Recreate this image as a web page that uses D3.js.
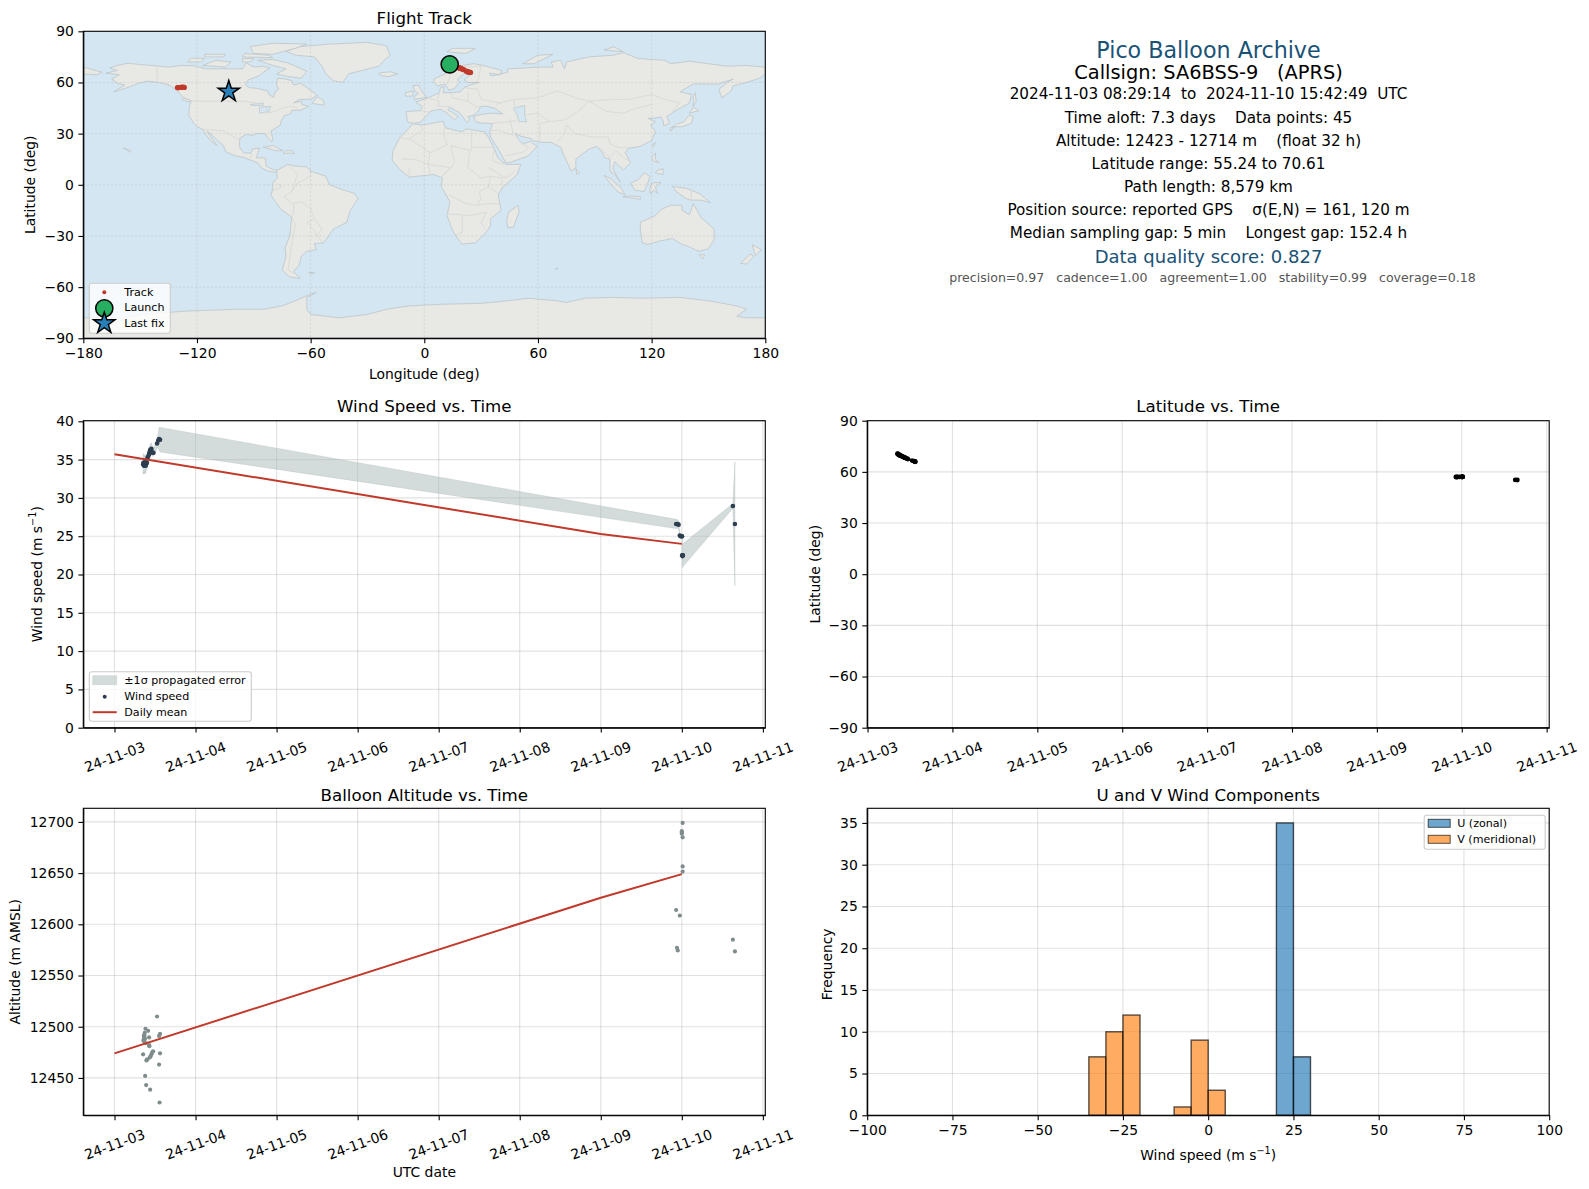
<!DOCTYPE html>
<html>
<head>
<meta charset="utf-8">
<title>Pico Balloon Archive</title>
<script src="https://cdn.jsdelivr.net/npm/d3@7/dist/d3.min.js"></script>
<style>
  html, body { margin: 0; padding: 0; background: #fff; }
  text { font-family: "DejaVu Sans", sans-serif; fill: #000; }
  .tick text { font-family: "DejaVu Sans", sans-serif; font-size: 13.9px; }
  .tick line, .domain { stroke: #000; stroke-width: 1.1px; }
</style>
</head>
<body>
<div id="chart"></div>
<script>
// days since 2024-11-03 00:00 UTC
const flightDays = [0.353, 0.357, 0.360, 0.362, 0.365, 0.368, 0.370, 0.373, 0.376, 0.378, 0.382, 0.385, 0.390, 0.394, 0.400, 0.406,
  0.415, 0.427, 0.427, 0.430, 0.435, 0.440, 0.445, 0.456, 0.466, 0.476, 0.525, 0.550, 0.550, 0.556, 0.562, 0.562,
  6.93, 6.94, 6.95, 6.975, 7.00, 7.00, 7.00, 7.01, 7.01, 7.01, 7.01, 7.63, 7.655];
const altitudeM = [12473, 12487, 12486, 12491, 12489, 12492, 12490, 12494, 12488, 12452, 12498, 12484, 12443, 12467, 12468, 12468,
  12496, 12489.5, 12482, 12481, 12470, 12438.5, 12471, 12473, 12475, 12476, 12510, 12491, 12463, 12426, 12493, 12474,
  12614, 12577, 12574.5, 12608.5, 12691, 12689.5, 12688.5, 12699, 12685, 12656.5, 12651.5, 12585, 12573.5];
const latitudeDeg = [70.61, 70.5, 70.4, 70.3, 70.2, 70.1, 70.0, 69.9, 69.85, 69.8, 69.7, 69.6, 69.5, 69.4, 69.25, 69.1,
  68.9, 68.65, 68.6, 68.5, 68.4, 68.3, 68.2, 67.95, 67.7, 67.5, 66.6, 66.3, 66.2, 66.1, 65.95, 65.9,
  57.0, 57.0, 57.0, 57.05, 57.1, 57.1, 57.1, 57.1, 57.1, 57.1, 57.1, 55.3, 55.24];
const longitudeDeg = [13.4, 13.8, 14.1, 14.4, 14.7, 15.0, 15.2, 15.4, 15.6, 15.8, 16.0, 16.2, 16.5, 16.8, 17.1, 17.4,
  17.8, 18.3, 18.4, 18.6, 18.9, 19.1, 19.4, 19.9, 20.3, 20.8, 22.2, 22.8, 23.0, 23.5, 24.0, 24.4,
  -130.3, -130.0, -129.6, -129.0, -128.2, -128.1, -128.0, -127.5, -127.3, -127.0, -126.7, -104, -103.2];

const windDays = [0.354, 0.357, 0.360, 0.362, 0.365, 0.368, 0.370, 0.373, 0.376, 0.378, 0.382, 0.385, 0.390, 0.394, 0.400, 0.406,
  0.415, 0.427, 0.430, 0.435, 0.440, 0.445, 0.456, 0.476, 0.480, 0.525, 0.540, 0.550, 0.562,
  6.93, 6.95, 6.96, 6.975, 6.985, 7.00, 7.002, 7.005, 7.008, 7.01, 7.012, 7.63, 7.655];
const windSpeed = [34.4, 34.6, 34.3, 34.4, 34.2, 34.5, 34.3, 34.4, 34.5, 34.7, 34.4, 34.2, 34.6, 34.5, 34.6, 35.2,
  35.4, 35.7, 35.8, 36.0, 36.2, 36.3, 36.4, 35.9, 35.9, 37.1, 37.5, 37.7, 37.6,
  26.6, 26.6, 26.5, 25.1, 25.0, 25.0, 25.0, 22.5, 22.4, 22.5, 22.5, 28.95, 26.6];
const windSigma = [1.2, 1.2, 1.2, 1.1, 1.1, 1.1, 1.1, 1.0, 1.0, 1.0, 1.0, 1.0, 0.9, 0.9, 0.9, 0.9,
  0.8, 0.8, 0.8, 0.8, 0.8, 0.8, 0.8, 0.5, 0.5, 0.6, 1.0, 1.5, 1.6,
  0.6, 0.55, 0.5, 0.3, 0.3, 0.3, 0.3, 1.5, 1.5, 1.5, 1.5, 0.3, 8.1];

const meanDays = [0, 6, 7];
const meanWind = [35.7, 25.3, 24.0];
const meanAltitude = [12474, 12626, 12649];

const uBinStarts = [20, 25];
const uCounts = [35, 7];
const vBinStarts = [-35, -30, -25, -10, -5, 0];
const vCounts = [7, 10, 12, 1, 9, 3];
const binWidth = 5;

const lonTicks = [-180, -120, -60, 0, 60, 120, 180];
const latTicks = [-90, -60, -30, 0, 30, 60, 90];
const windTicks = [0, 5, 10, 15, 20, 25, 30, 35, 40];
const altTicks = [12450, 12500, 12550, 12600, 12650, 12700];
const freqTicks = [0, 5, 10, 15, 20, 25, 30, 35];
const histTicks = [-100, -75, -50, -25, 0, 25, 50, 75, 100];

const launchFix = [13.4, 70.61];
const lastFix = [-103.2, 55.24];

// rough coastlines, lon/lat
const landPolygons = [
  // north america
  [[-168,65.5],[-164,66.5],[-162,67],[-166,68.5],[-162,70],[-156.5,71.3],[-150,70.5],[-141,69.7],[-135,69],[-128,70],[-122,69.8],[-115,68],[-108,68],[-100,68],[-96,68],[-94,71.5],[-90,69],[-85,69.5],[-81.5,68.5],[-85,66],[-87,64],[-93,61.5],[-94.5,58.7],[-92.5,57],[-88,56.5],[-82.5,55],[-82,52.8],[-79.5,51.3],[-79,54],[-77,56],[-78,59],[-77.5,62.5],[-73,62],[-70,61],[-69,58.5],[-65.5,59.5],[-62,57],[-56.5,52.5],[-60,50.2],[-66,50],[-69,48],[-65,49],[-64.5,47],[-61,46],[-65.5,43.7],[-70,43.7],[-70.5,41.7],[-74,40.5],[-75.5,37.5],[-76,35],[-81,31.5],[-80,27],[-80.5,25.2],[-82.5,27.5],[-84,30],[-89,30.2],[-90,29],[-94,29.5],[-97.3,27.5],[-97.7,22.5],[-95.5,18.8],[-91.5,18.5],[-90.5,21],[-87,21.5],[-88,18],[-88.8,15.8],[-84,15.8],[-83.5,11],[-80,9],[-77.5,8.6],[-78,7.5],[-80,7.5],[-83,8.2],[-86,10],[-88,13],[-92,14.5],[-95,16],[-100,17],[-105,19.5],[-106,23],[-109,26],[-112.5,29.5],[-114.7,31.5],[-112,27],[-109.5,23],[-112,25],[-115,29],[-117,32.5],[-120.5,34.5],[-122.5,37.5],[-124.3,40.5],[-124,46],[-123,49],[-127,51],[-130,54.5],[-134,58],[-139,59.8],[-146,60.8],[-151,59.5],[-153,58.5],[-158,56.5],[-164,54.5],[-158,58.5],[-162,59.5],[-165,62],[-161,64.5]],
  // greenland + arctic islands
  [[-73,78.2],[-66,81],[-50,82.5],[-30,83.5],[-20,81.5],[-18,76],[-22,72],[-24,69.5],[-33,67],[-40,65],[-43,60],[-48,61],[-52,65],[-54,69.5],[-58,75],[-68,76]],
  [[-80,73.5],[-72,71.5],[-68,69.5],[-62,66.5],[-65,62.5],[-72,63.5],[-78,65],[-73,68],[-80,70],[-88,73]],
  [[-117,70],[-105,69],[-102,72],[-110,73]],
  [[-125,72],[-118,72],[-116,74],[-123,74.3]],
  [[-90,77],[-80,76.5],[-68,80],[-62,82.5],[-80,83],[-92,81]],
  [[-96,75],[-80,74.5],[-82,76],[-95,77]],
  [[-116,75],[-106,75],[-105,76.5],[-116,76.5]],
  [[-96,72],[-92,72],[-90,74],[-96,74]],
  [[-59,47.7],[-53,46.7],[-53,49],[-56,51.5],[-58,50]],
  [[-128,50],[-124,48.5],[-123.5,49.5],[-127,51]],
  [[-85,22],[-80,23],[-74.5,20],[-78,20]],
  [[-74.5,18.5],[-68.5,18.5],[-70,20],[-73,20]],
  [[-159,21.5],[-155,20],[-155.5,19],[-157,21]],
  // south america
  [[-77.5,8.6],[-72,12],[-68,11],[-62,10.5],[-60,8],[-52,5],[-50,0],[-44,-2.5],[-37,-5],[-35,-8],[-39,-15],[-41,-22],[-48,-26],[-53,-34],[-58,-34.5],[-57,-38],[-62,-39],[-65,-42],[-66,-47],[-69,-51],[-65.5,-55],[-71,-54],[-75,-50],[-73,-42],[-73.5,-37],[-71,-30],[-70,-19],[-76,-14],[-81,-6],[-80,-2.5],[-80,1],[-77.5,4],[-78,7.5]],
  [[-61,-51.5],[-58,-51.5],[-59,-52.3]],
  // africa
  [[-6,35.8],[-1,35],[10,37.3],[11,33.5],[15,32.3],[20,31],[22,32.8],[32,31],[34,27.5],[37,21],[39,15.5],[43,12],[51,12],[49,6],[41,-2],[39,-6],[40.5,-15],[35,-20],[35,-24],[32.5,-28],[27,-34],[20,-34.8],[18,-32],[15,-27],[12,-18],[13.5,-10],[9,-1],[9.5,4],[5,6],[-4,5],[-8,4.5],[-13,9],[-17,14.5],[-16.5,20],[-13,27.5],[-9.5,31.5]],
  [[49.5,-12],[50,-16],[47,-25],[44,-25],[43.5,-21],[44.5,-16]],
  // eurasia
  [[-9,37],[-9.5,43],[-2,43.5],[-1,46],[-4.5,48.5],[1.5,50.8],[4,52],[8,54],[8.5,57],[10.5,57.5],[10,54],[14,54],[19,54.5],[21,57],[24,58.5],[29,60],[23,60],[21,61.5],[25,65],[22,65.8],[17.5,62],[18.5,60],[16,56.5],[13,55.5],[11,59],[7,58],[5,60],[5,62],[11,65],[15,68.5],[20,70],[26,71],[31,70],[41,67],[40,64.5],[34.5,65.5],[35,64],[37,64],[44,66],[44,68],[53,68.5],[60,69],[68,69],[67,72],[72,73],[74,68],[75,72],[81,73.5],[87,75],[100,76],[105,77.5],[113,74],[127,73],[130,71],[140,72.5],[150,71],[160,69.5],[170,70],[180,69],[180,65],[177,62.5],[170,60],[163,58],[162,55],[157,51],[155.5,56],[160,60],[163,62],[155,59],[142,59.2],[135,54.5],[141,53],[140,48],[132,43],[128,40],[129.5,36],[126.5,34.5],[126,37.5],[125,39.7],[121,39],[118,39],[122,37],[119.5,35],[122,31],[120,26],[114,22.5],[108,21.5],[106,19],[109,13],[105,8.7],[103,11],[100.5,13.5],[99.5,9.5],[103.5,1.5],[100.5,6],[98,8],[98,15],[95,16],[94,19],[91,22.5],[87,21],[80,15],[80,10],[77.5,8],[73,19],[72,22],[67,24.8],[61,25],[57,26],[56.5,27],[51,28.5],[48,30],[50,26],[52,24],[56,25.5],[59.5,22.5],[55,17],[45,13],[43,13],[39,21],[35,28],[34.5,31],[36,36],[30,36.2],[27,37],[26,40],[29,41],[35,42],[41.5,41.5],[37,45],[33,46],[30,46],[28,42.5],[26,40.8],[23,40],[24,38],[22.5,36.5],[19.5,41],[19,42],[13.5,45.5],[12.5,44],[18,40],[16,38],[12,42],[8.8,44.3],[3.5,43.3],[0,39],[-2,36.8],[-5.5,36]],
  [[-180,69],[-175,67.5],[-170,66],[-173,64.5],[-180,65]],
  [[-5.5,50],[1.5,51.3],[0,53],[-2,56],[-3,58.5],[-6,58],[-5,55],[-3,53.5],[-5,52]],
  [[-10,52],[-6,52],[-6,55],[-10,54]],
  [[-24,65.5],[-18,66.3],[-14,65],[-19,63.4],[-23,64]],
  [[12,78],[22,77],[27,80],[15,80]],
  [[52,71],[58,71],[68,76.5],[60,76]],
  [[95,79],[105,78],[100,81]],
  [[142,46],[143.5,49],[143,54],[142,52]],
  [[131,34],[136,34],[141,36],[142,40],[140,41],[137,37],[133,35.5]],
  [[140,42],[145,43.5],[142,45.5]],
  [[130,31.5],[132,33.5],[130,33.5]],
  [[120,23],[121,22],[122,25]],
  [[120,16],[122,18.5],[122,15],[124,13],[121,14]],
  [[122,7],[126,6],[126,9.5],[123,8.5]],
  [[109,1],[111,-3],[116,-4],[118,1],[119,5],[116,7],[113,3]],
  [[95,5.5],[98,4],[104,-2],[106,-6],[102,-4],[98,1]],
  [[105,-7],[114,-8.5],[114,-7],[108,-6.5]],
  [[119.5,-5.5],[121,-3],[123,-5],[122,-1],[125,1.5],[120,1],[119,-3]],
  [[131,-1],[138,-2],[145,-5],[151,-10.5],[146,-9],[141,-9],[138,-8],[133,-4]],
  [[80,9.5],[82,7],[80.5,6]],
  // australia, nz
  [[114,-22],[122,-18],[125,-14.5],[130,-12],[136,-12],[136,-15],[140,-17.5],[142,-11],[146,-19],[153,-26],[153,-32],[150,-37.5],[145,-39],[139,-36],[136,-35],[131,-31.5],[124,-33],[118,-35],[115,-34],[114,-26]],
  [[145,-41],[148,-41],[147,-43.5]],
  [[173,-35],[178,-38],[175,-41.5],[174,-39]],
  [[172,-40.5],[174,-42],[170,-46.5],[167,-46]],
  [[69,-49],[70.5,-49],[70,-49.8]],
  // antarctica
  [[-180,-78],[-160,-78],[-150,-76],[-125,-74],[-100,-73],[-85,-73],[-75,-71],[-68,-68],[-60,-64],[-57,-63.2],[-62,-66],[-62,-73],[-60,-76],[-45,-78],[-30,-76],[-20,-73],[-8,-71],[10,-70],[30,-69.5],[40,-68.5],[55,-66.5],[70,-68],[75,-69],[85,-66.5],[100,-66],[115,-66.5],[135,-66],[150,-68],[165,-71],[170,-73],[165,-77],[170,-78],[180,-78],[180,-90],[-180,-90]]
];
const lakePolygons = [
  [[47,45],[53,46.5],[53,41],[54,37],[50,37],[49,41]],
  [[-92,47],[-85,48],[-85,46.5],[-90,46.5]],
  [[-87,45.5],[-81,46],[-82,43],[-87,42]]
];
const borderLines = [
  [[-141,69.7],[-141,60.3],[-135,59],[-130,55]],
  [[-123,49],[-95,49],[-89,48],[-83,45],[-83,42],[-79,43],[-75,45],[-70,46],[-67,45]],
  [[-117,32.5],[-106,31.7],[-97.3,26]],
  [[-92,14.5],[-91,18]],
  [[-72,12],[-67,6],[-70,-4],[-74,-7],[-70,-11],[-65,-10],[-60,-14],[-58,-20],[-54,-26],[-57,-30],[-53,-34]],
  [[-60,8],[-60,5],[-67,1],[-70,-4]],
  [[-70,-19],[-68,-23],[-70,-35],[-72,-50],[-69,-52]],
  [[-69,-11],[-69,-16],[-70,-19]],
  [[-58,-20],[-62,-22],[-58,-27],[-57,-30]],
  [[-81,-4],[-75,-1],[-78,1]],
  [[-2,35],[-1,32],[-8,27],[-13,27.5]],
  [[-8,27],[3,19],[4,19],[12,23.5],[10,30],[11,33.5]],
  [[25,31.5],[25,20],[14,23],[16,13],[14,10],[9,4.5]],
  [[25,22],[37,22]],
  [[24,20],[23,10],[30,4],[35,5],[41,4],[41,-2]],
  [[35,5],[34,-1],[39,-5]],
  [[34,-1],[29,-4],[30,-8],[28,-12],[22,-11],[13,-6]],
  [[28,-12],[34,-11],[40.5,-11]],
  [[12,-17],[24,-18],[33,-16],[30,-22],[32,-26]],
  [[20,-18],[20,-28],[17,-29]],
  [[3,19],[2,12],[3,6]],
  [[-12,15],[-5,15],[2,12]],
  [[-8,10],[-8,4.5]],
  [[9,4.5],[14,10],[2,12]],
  [[37,22],[36,14],[42,12]],
  [[34,10],[43,4],[48,8]],
  [[-2,43.5],[3,42.5]],
  [[2,51],[8,49],[7,46],[13.5,46]],
  [[8,54],[7,50]],
  [[14,54],[15,51],[23,49],[28,45.5],[30,46]],
  [[23,54],[23,49]],
  [[21,57],[28,56],[30,50],[40,48],[38,47]],
  [[12,59],[14,65],[20,69],[30,69.5],[28,60]],
  [[47,50],[60,51],[70,55],[80,51],[87,49],[98,50],[108,50],[120,53],[127,50],[135,48],[131,43]],
  [[40,48],[47,50],[48,46]],
  [[87,49],[96,43],[105,42],[112,45],[120,47]],
  [[53,41],[60,42],[66,37],[74,38],[80,42],[87,49]],
  [[75,35],[80,30],[88,28],[97,28],[98,24],[102,22],[108,21.5]],
  [[75,35],[74,30],[70,25]],
  [[66,37],[61,36],[61,25]],
  [[45,39],[47,30]],
  [[36,36],[45,37],[49,38]],
  [[35,32],[39,32],[47,29]],
  [[92,22],[98,16],[101,20],[105,16],[108,14]],
  [[43,17],[52,19],[55,22],[52,24]],
  [[141,-3],[141,-9]]
];

const tzero = Date.UTC(2024, 10, 3);
const toDate = d => new Date(tzero + d * 864e5);

const red = '#c0392b';
const navy = '#2c3e50';
const slate = '#7f8c8d';
const bandFill = '#aab7b8';
const titleBlue = '#1a5276';

const svg = d3.select('#chart').append('svg')
  .attr('width', 1589)
  .attr('height', 1189);

const leftX = 83.3, rightX = 867.2, plotW = 682, plotH = 307;
const topY = 31.3, midY = 420.7, lowY = 808.3;

function panel(x0, y0, title, id, titleY) {
  const g = svg.append('g').attr('transform', `translate(${x0},${y0})`);
  g.append('clipPath').attr('id', id).append('rect').attr('width', plotW).attr('height', plotH);
  g.append('text').attr('x', plotW / 2).attr('y', titleY || -7)
    .attr('text-anchor', 'middle').style('font-size', '16.67px').text(title);
  return g;
}

function grid(g, x, y, xt, yt, dash) {
  const gg = g.append('g').attr('stroke', '#b0b0b0').attr('stroke-opacity', dash ? 0.45 : 0.38).attr('stroke-width', dash ? 0.8 : 1.1)
    .attr('stroke-dasharray', dash || null);
  gg.selectAll('.gx').data(xt).join('line').attr('x1', d => x(d)).attr('x2', d => x(d)).attr('y1', 0).attr('y2', plotH);
  gg.selectAll('.gy').data(yt).join('line').attr('y1', d => y(d)).attr('y2', d => y(d)).attr('x1', 0).attr('x2', plotW);
}

function frame(g, x, y, xt, yt, xfmt, rotate) {
  const ax = g.append('g').attr('transform', `translate(0,${plotH})`)
    .call(d3.axisBottom(x).tickValues(xt).tickSize(4.9).tickSizeOuter(0).tickPadding(4.5).tickFormat(xfmt || d3.format('d')));
  if (rotate) {
    // labels rotate about their centre, below the tick
    ax.selectAll('.tick text')
      .attr('text-anchor', 'middle')
      .attr('dominant-baseline', 'middle')
      .attr('y', 0).attr('x', 0).attr('dy', 0)
      .attr('transform', 'translate(0,30) rotate(-20)');
  }
  g.append('g').call(d3.axisLeft(y).tickValues(yt).tickSize(4.9).tickSizeOuter(0).tickPadding(4.5).tickFormat(d3.format('d')));
  g.append('rect').attr('width', plotW).attr('height', plotH).attr('fill', 'none').attr('stroke', '#000').attr('stroke-width', 1.1);
}

function ylabel(g, cx, parts, shift) {
  const t = g.append('text').attr('transform', `translate(${cx},${plotH / 2 + (shift || 0)}) rotate(-90)`)
    .attr('text-anchor', 'middle').attr('dominant-baseline', 'middle').style('font-size', '13.9px');
  parts(t);
}

function windUnits(t, label) {
  t.append('tspan').text(label + ' (m s');
  t.append('tspan').attr('dy', -5).style('font-size', '9.7px').text('\u22121');
  t.append('tspan').attr('dy', 5).text(')');
}

function legendBox(g, x, y, w, h) {
  g.append('rect').attr('x', x).attr('y', y).attr('width', w).attr('height', h).attr('rx', 2.5)
    .attr('fill', '#fff').attr('fill-opacity', 0.8).attr('stroke', '#ccc').attr('stroke-width', 1.1);
}

function legendText(g, x, y, label) {
  g.append('text').attr('x', x).attr('y', y).attr('dominant-baseline', 'middle')
    .style('font-size', '11.1px').text(label);
}

// ---- flight track
(function () {
  const g = panel(leftX, topY, 'Flight Track', 'clip-map');
  const x = d3.scaleLinear().domain([-180, 180]).range([0, plotW]);
  const y = d3.scaleLinear().domain([-90, 90]).range([plotH, 0]);
  const shape = d3.line().x(d => x(d[0])).y(d => y(d[1]));

  const map = g.append('g').attr('clip-path', 'url(#clip-map)');
  map.append('rect').attr('width', plotW).attr('height', plotH).attr('fill', '#d4e6f1');
  map.selectAll('.land').data(landPolygons).join('path')
    .attr('d', d => shape(d) + 'Z')
    .attr('fill', '#e8e8e4').attr('stroke', '#bcc5c9').attr('stroke-width', 0.8);
  map.selectAll('.lake').data(lakePolygons).join('path')
    .attr('d', d => shape(d) + 'Z')
    .attr('fill', '#d4e6f1').attr('stroke', '#bcc5c9').attr('stroke-width', 0.7);
  map.selectAll('.border').data(borderLines).join('path')
    .attr('d', shape).attr('fill', 'none')
    .attr('stroke', '#d6d8d6').attr('stroke-width', 0.8);

  grid(g, x, y, lonTicks, latTicks, '2,2');

  g.selectAll('.track').data(longitudeDeg).join('circle')
    .attr('cx', d => x(d)).attr('cy', (d, i) => y(latitudeDeg[i])).attr('r', 2.6).attr('fill', red);
  g.append('circle').attr('cx', x(launchFix[0])).attr('cy', y(launchFix[1])).attr('r', 8.6)
    .attr('fill', '#27ae60').attr('stroke', '#000').attr('stroke-width', 1.5);
  const star = d3.symbol().type(d3.symbolStar).size(140);
  g.append('path').attr('d', star()).attr('transform', `translate(${x(lastFix[0])},${y(lastFix[1]) + 1})`)
    .attr('fill', '#2980b9').attr('stroke', '#000').attr('stroke-width', 1.5);

  frame(g, x, y, lonTicks, latTicks);
  g.append('text').attr('x', plotW / 2).attr('y', plotH + 37).attr('dominant-baseline', 'middle')
    .attr('text-anchor', 'middle').style('font-size', '13.9px').text('Longitude (deg)');
  ylabel(g, -52.8, t => t.text('Latitude (deg)'));

  legendBox(g, 6, 252, 81, 50);
  g.append('circle').attr('cx', 21).attr('cy', 261).attr('r', 2).attr('fill', red);
  g.append('circle').attr('cx', 21).attr('cy', 277).attr('r', 8.6)
    .attr('fill', '#27ae60').attr('stroke', '#000').attr('stroke-width', 1.5);
  g.append('path').attr('d', star()).attr('transform', 'translate(21,292)')
    .attr('fill', '#2980b9').attr('stroke', '#000').attr('stroke-width', 1.5);
  legendText(g, 41, 261.5, 'Track');
  legendText(g, 41, 277, 'Launch');
  legendText(g, 41, 292.5, 'Last fix');
})();

// ---- summary text
(function () {
  const cx = 1208.5;
  const lines = [
    [51, 22.2, titleBlue, 'Pico Balloon Archive', 0],
    [73, 19.4, '#000', 'Callsign: SA6BSS-9   (APRS)', 0],
    [94.5, 15.22, '#000', '2024-11-03 08:29:14  to  2024-11-10 15:42:49  UTC', 0],
    [118, 15.22, '#000', 'Time aloft: 7.3 days    Data points: 45', 0],
    [141, 15.22, '#000', 'Altitude: 12423 - 12714 m    (float 32 h)', 0],
    [164, 15.22, '#000', 'Latitude range: 55.24 to 70.61', 0],
    [187, 15.22, '#000', 'Path length: 8,579 km', 0],
    [210, 15.22, '#000', 'Position source: reported GPS    \u03c3(E,N) = 161, 120 m', 0],
    [233.5, 15.22, '#000', 'Median sampling gap: 5 min    Longest gap: 152.4 h', 0],
    [258, 18, titleBlue, 'Data quality score: 0.827', 0],
    [278.5, 12.55, '#555', 'precision=0.97   cadence=1.00   agreement=1.00   stability=0.99   coverage=0.18', 4]
  ];
  svg.selectAll('.info').data(lines).join('text')
    .attr('x', d => cx + d[4]).attr('y', d => d[0]).attr('text-anchor', 'middle').attr('dominant-baseline', 'middle')
    .style('white-space', 'pre').style('font-size', d => d[1] + 'px').style('fill', d => d[2]).text(d => d[3]);
})();

const dayFmt = d3.utcFormat('%y-%m-%d');
const dayTicks = d3.range(0, 9).map(toDate);

// ---- wind speed
(function () {
  const g = panel(leftX, midY, 'Wind Speed vs. Time', 'clip-wind', -9);
  const x = d3.scaleUtc().domain([toDate(-0.385), toDate(8.03)]).range([0, plotW]);
  const y = d3.scaleLinear().domain([0, 40.08]).range([plotH, 0]);
  grid(g, x, y, dayTicks, windTicks);

  const band = d3.area()
    .x((d, i) => x(toDate(windDays[i])))
    .y0((d, i) => y(d - windSigma[i]))
    .y1((d, i) => y(d + windSigma[i]));
  g.append('path').datum(windSpeed).attr('d', band)
    .attr('fill', bandFill).attr('fill-opacity', 0.5).attr('stroke', bandFill).attr('stroke-opacity', 0.3).attr('stroke-width', 1);

  g.selectAll('.wpt').data(windSpeed).join('circle')
    .attr('cx', (d, i) => x(toDate(windDays[i]))).attr('cy', d => y(d)).attr('r', 2.3).attr('fill', navy);
  const meanLine = d3.line().x((d, i) => x(toDate(meanDays[i]))).y(d => y(d));
  g.append('path').datum(meanWind).attr('d', meanLine).attr('fill', 'none').attr('stroke', red).attr('stroke-width', 2);

  frame(g, x, y, dayTicks, windTicks, dayFmt, true);
  ylabel(g, -45, t => windUnits(t, 'Wind speed'));

  legendBox(g, 6, 251, 162, 49.5);
  g.append('rect').attr('x', 9.4).attr('y', 255).attr('width', 24).attr('height', 9)
    .attr('fill', bandFill).attr('fill-opacity', 0.5).attr('stroke', bandFill).attr('stroke-opacity', 0.3);
  g.append('circle').attr('cx', 21.4).attr('cy', 276).attr('r', 2).attr('fill', navy);
  g.append('line').attr('x1', 9.4).attr('x2', 33.4).attr('y1', 291.5).attr('y2', 291.5).attr('stroke', red).attr('stroke-width', 2);
  legendText(g, 41, 260, '\u00b11\u03c3 propagated error');
  legendText(g, 41, 276.3, 'Wind speed');
  legendText(g, 41, 292, 'Daily mean');
})();

// ---- latitude
(function () {
  const g = panel(rightX, midY, 'Latitude vs. Time', 'clip-lat', -9);
  const x = d3.scaleUtc().domain([toDate(-0.004), toDate(8.03)]).range([0, plotW]);
  const y = d3.scaleLinear().domain([-90, 90]).range([plotH, 0]);
  grid(g, x, y, dayTicks, latTicks);
  g.selectAll('.lpt').data(latitudeDeg).join('circle')
    .attr('cx', (d, i) => x(toDate(flightDays[i]))).attr('cy', d => y(d)).attr('r', 2.4).attr('fill', '#000');
  frame(g, x, y, dayTicks, latTicks, dayFmt, true);
  ylabel(g, -51.3, t => t.text('Latitude (deg)'));
})();

// ---- altitude
(function () {
  const g = panel(leftX, lowY, 'Balloon Altitude vs. Time', 'clip-alt');
  const x = d3.scaleUtc().domain([toDate(-0.385), toDate(8.03)]).range([0, plotW]);
  const y = d3.scaleLinear().domain([12413.5, 12713.3]).range([plotH, 0]);
  grid(g, x, y, dayTicks, altTicks);
  g.selectAll('.apt').data(altitudeM).join('circle')
    .attr('cx', (d, i) => x(toDate(flightDays[i]))).attr('cy', d => y(d)).attr('r', 2.1).attr('fill', slate);
  const meanLine = d3.line().x((d, i) => x(toDate(meanDays[i]))).y(d => y(d));
  g.append('path').datum(meanAltitude).attr('d', meanLine).attr('fill', 'none').attr('stroke', red).attr('stroke-width', 2);
  frame(g, x, y, dayTicks, altTicks, dayFmt, true);
  ylabel(g, -67.5, t => t.text('Altitude (m AMSL)'));
  g.append('text').attr('x', plotW / 2).attr('y', plotH + 58).attr('dominant-baseline', 'middle')
    .attr('text-anchor', 'middle').style('font-size', '13.9px').text('UTC date');
})();

// ---- u / v histogram
(function () {
  const g = panel(rightX, lowY, 'U and V Wind Components', 'clip-hist');
  const x = d3.scaleLinear().domain([-100, 100]).range([0, plotW]);
  const y = d3.scaleLinear().domain([0, 36.75]).range([plotH, 0]);
  grid(g, x, y, histTicks, freqTicks);

  function bars(starts, counts, color) {
    g.selectAll(null).data(counts).join('rect')
      .attr('x', (d, i) => x(starts[i]))
      .attr('width', (d, i) => x(starts[i] + binWidth) - x(starts[i]))
      .attr('y', d => y(d))
      .attr('height', d => y(0) - y(d))
      .attr('fill', color).attr('fill-opacity', 0.65)
      .attr('stroke', '#000').attr('stroke-opacity', 0.65).attr('stroke-width', 1.4);
  }
  bars(uBinStarts, uCounts, '#1f77b4');
  bars(vBinStarts, vCounts, '#ff7f0e');

  frame(g, x, y, histTicks, freqTicks, d3.format('d'));
  const t = g.append('text').attr('x', plotW / 2).attr('y', plotH + 41).attr('dominant-baseline', 'middle')
    .attr('text-anchor', 'middle').style('font-size', '13.9px');
  windUnits(t, 'Wind speed');
  ylabel(g, -39.2, s => s.text('Frequency'), 2.5);

  legendBox(g, 557, 7, 121, 34);
  g.append('rect').attr('x', 561).attr('y', 11).attr('width', 22).attr('height', 8)
    .attr('fill', '#1f77b4').attr('fill-opacity', 0.65).attr('stroke', '#000').attr('stroke-opacity', 0.65);
  g.append('rect').attr('x', 561).attr('y', 27).attr('width', 22).attr('height', 8)
    .attr('fill', '#ff7f0e').attr('fill-opacity', 0.65).attr('stroke', '#000').attr('stroke-opacity', 0.65);
  legendText(g, 590, 15.5, 'U (zonal)');
  legendText(g, 590, 31.5, 'V (meridional)');
})();
</script>
</body>
</html>
